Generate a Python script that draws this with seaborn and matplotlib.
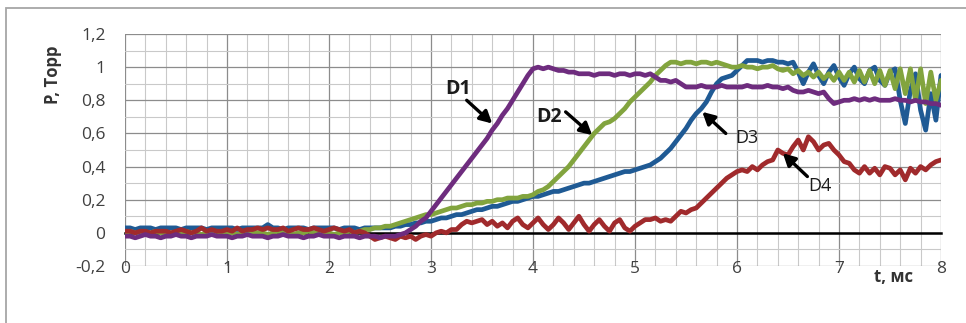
import numpy as np
import pandas as pd
import matplotlib
matplotlib.use("Agg")
import matplotlib.pyplot as plt
from matplotlib.patches import Rectangle
from matplotlib.ticker import MultipleLocator, FixedLocator
import seaborn as sns

# time grid, ms (sample step 0.05 ms)
t_ms = np.round(np.arange(161) * 0.05, 2)

# pressure traces of four gauges, Torr
d1 = [
    -0.02, -0.02, -0.03, -0.02, -0.01, -0.02, -0.02, -0.03, -0.02, -0.02, -0.01, -0.02, -0.02, -0.03, -0.02, -0.02, -0.02, -0.01, -0.02, -0.02,
    -0.02, -0.03, -0.02, -0.02, -0.01, -0.02, -0.02, -0.02, -0.03, -0.02, -0.02, -0.01, -0.02, -0.02, -0.02, -0.03, -0.02, -0.02, -0.01, -0.02,
    -0.02, -0.02, -0.03, -0.02, -0.02, -0.02, -0.03, -0.02, -0.02, -0.02, -0.03, -0.02, -0.02, -0.02, -0.01, 0.00, 0.02, 0.04, 0.07, 0.09,
    0.13, 0.17, 0.21, 0.25, 0.29, 0.33, 0.37, 0.41, 0.45, 0.49, 0.53, 0.57, 0.62, 0.66, 0.71, 0.75, 0.80, 0.85, 0.90, 0.95,
    0.99, 1.00, 0.99, 1.00, 0.99, 0.98, 0.98, 0.97, 0.97, 0.96, 0.96, 0.96, 0.95, 0.96, 0.96, 0.96, 0.95, 0.96, 0.96, 0.95,
    0.96, 0.96, 0.95, 0.96, 0.94, 0.92, 0.92, 0.91, 0.92, 0.90, 0.88, 0.88, 0.88, 0.89, 0.88, 0.88, 0.88, 0.89, 0.88, 0.88,
    0.88, 0.88, 0.89, 0.88, 0.88, 0.88, 0.89, 0.88, 0.88, 0.87, 0.88, 0.86, 0.85, 0.85, 0.86, 0.85, 0.84, 0.85, 0.81, 0.78,
    0.79, 0.80, 0.80, 0.81, 0.80, 0.81, 0.80, 0.81, 0.80, 0.80, 0.80, 0.81, 0.80, 0.80, 0.79, 0.80, 0.79, 0.79, 0.78, 0.78,
    0.77,
]
d2 = [
    0.00, 0.01, 0.00, 0.00, -0.01, 0.00, 0.01, 0.00, 0.00, 0.00, -0.01, 0.00, 0.01, 0.00, 0.00, -0.01, 0.00, 0.00, 0.01, 0.00,
    0.00, 0.00, -0.01, 0.00, 0.01, 0.00, 0.00, 0.00, -0.01, 0.00, 0.01, 0.00, 0.00, -0.01, 0.00, 0.00, 0.01, 0.00, 0.00, 0.00,
    0.00, -0.01, 0.00, 0.00, 0.01, 0.00, 0.01, 0.02, 0.02, 0.03, 0.03, 0.04, 0.04, 0.05, 0.06, 0.07, 0.08, 0.09, 0.10, 0.11,
    0.11, 0.12, 0.13, 0.14, 0.15, 0.15, 0.16, 0.17, 0.17, 0.18, 0.18, 0.19, 0.19, 0.20, 0.20, 0.21, 0.21, 0.21, 0.22, 0.22,
    0.23, 0.25, 0.26, 0.28, 0.31, 0.34, 0.37, 0.40, 0.44, 0.48, 0.52, 0.56, 0.60, 0.63, 0.66, 0.67, 0.69, 0.72, 0.75, 0.79,
    0.82, 0.85, 0.88, 0.91, 0.95, 0.98, 1.01, 1.03, 1.03, 1.02, 1.03, 1.03, 1.02, 1.03, 1.03, 1.02, 1.03, 1.02, 1.01, 1.00,
    1.00, 1.01, 1.00, 1.00, 0.99, 1.00, 1.00, 1.01, 0.99, 0.98, 0.99, 0.96, 0.98, 0.95, 0.97, 0.94, 0.97, 0.93, 0.96, 0.92,
    0.97, 0.92, 0.97, 0.91, 0.98, 0.91, 0.98, 0.90, 0.98, 0.89, 0.98, 0.87, 0.99, 0.84, 0.99, 0.80, 0.99, 0.78, 0.97, 0.80,
    0.92,
]
d3 = [
    0.03, 0.03, 0.02, 0.03, 0.03, 0.03, 0.02, 0.03, 0.03, 0.03, 0.03, 0.02, 0.03, 0.03, 0.03, 0.03, 0.02, 0.03, 0.03, 0.03,
    0.03, 0.03, 0.02, 0.03, 0.03, 0.03, 0.03, 0.03, 0.05, 0.03, 0.03, 0.02, 0.03, 0.03, 0.03, 0.03, 0.02, 0.03, 0.03, 0.03,
    0.03, 0.03, 0.02, 0.03, 0.03, 0.03, 0.02, 0.03, 0.03, 0.03, 0.03, 0.03, 0.03, 0.04, 0.04, 0.05, 0.05, 0.06, 0.06, 0.07,
    0.07, 0.08, 0.09, 0.09, 0.10, 0.11, 0.11, 0.12, 0.13, 0.14, 0.14, 0.15, 0.16, 0.16, 0.17, 0.18, 0.19, 0.19, 0.20, 0.21,
    0.22, 0.22, 0.23, 0.24, 0.25, 0.25, 0.26, 0.27, 0.28, 0.29, 0.30, 0.30, 0.31, 0.32, 0.33, 0.34, 0.35, 0.36, 0.37, 0.37,
    0.38, 0.39, 0.40, 0.41, 0.43, 0.45, 0.48, 0.51, 0.55, 0.59, 0.63, 0.68, 0.72, 0.75, 0.79, 0.85, 0.90, 0.93, 0.94, 0.95,
    0.98, 1.01, 1.04, 1.04, 1.04, 1.03, 1.04, 1.04, 1.03, 1.03, 1.02, 1.03, 0.97, 0.90, 0.97, 1.02, 0.95, 0.90, 0.97, 1.01,
    0.94, 0.89, 0.96, 1.00, 0.93, 0.90, 0.98, 1.00, 0.92, 0.89, 0.97, 0.99, 0.80, 0.66, 0.86, 0.96, 0.74, 0.62, 0.84, 0.68,
    0.95,
]
d4 = [
    0.01, 0.01, 0.00, 0.01, 0.01, 0.00, 0.01, 0.01, 0.01, 0.00, 0.01, 0.02, 0.01, 0.00, 0.01, 0.03, 0.01, 0.02, 0.01, 0.01,
    0.02, 0.01, 0.03, 0.01, 0.02, 0.02, 0.03, 0.02, 0.03, 0.02, 0.02, 0.03, 0.01, 0.02, 0.03, 0.02, 0.02, 0.03, 0.02, 0.01,
    0.02, 0.03, 0.02, 0.01, 0.02, 0.00, 0.01, 0.00, -0.02, -0.04, -0.03, -0.02, -0.03, -0.04, -0.02, -0.03, -0.02, -0.04, -0.02, -0.01,
    -0.02, 0.00, 0.01, 0.00, 0.02, 0.02, 0.05, 0.07, 0.06, 0.07, 0.08, 0.05, 0.07, 0.04, 0.06, 0.03, 0.07, 0.09, 0.05, 0.03,
    0.06, 0.09, 0.05, 0.02, 0.05, 0.09, 0.06, 0.02, 0.06, 0.10, 0.05, 0.01, 0.05, 0.08, 0.04, 0.01, 0.06, 0.08, 0.03, 0.01,
    0.04, 0.06, 0.08, 0.08, 0.09, 0.07, 0.08, 0.07, 0.10, 0.13, 0.12, 0.14, 0.15, 0.18, 0.21, 0.24, 0.27, 0.30, 0.33, 0.35,
    0.37, 0.38, 0.37, 0.40, 0.38, 0.41, 0.43, 0.44, 0.50, 0.48, 0.47, 0.52, 0.56, 0.50, 0.58, 0.55, 0.50, 0.53, 0.54, 0.50,
    0.47, 0.43, 0.42, 0.38, 0.36, 0.40, 0.36, 0.39, 0.35, 0.40, 0.39, 0.35, 0.38, 0.32, 0.39, 0.36, 0.40, 0.38, 0.41, 0.43,
    0.44,
]

series_names = ["D3", "D2", "D4", "D1"]
series_values = {"D1": d1, "D2": d2, "D3": d3, "D4": d4}
series_colors = {"D1": "#6E2C7E", "D2": "#82A43E", "D3": "#1F5A94", "D4": "#A02A2C"}

y_ticks = [-0.2, 0.0, 0.2, 0.4, 0.6, 0.8, 1.0, 1.2]
y_tick_labels = ["-0,2", "0", "0,2", "0,4", "0,6", "0,8", "1", "1,2"]
x_ticks = [0, 1, 2, 3, 4, 5, 6, 7, 8]
x_tick_labels = ["0", "1", "2", "3", "4", "5", "6", "7", "8"]

# label text, label anchor (t, P), arrow tail, arrow head, bold
callouts = [
    ("D1", (3.27, 0.87), (3.35, 0.80), (3.60, 0.66), "bold"),
    ("D2", (4.16, 0.70), (4.32, 0.73), (4.58, 0.59), "bold"),
    ("D3", (6.10, 0.57), (5.89, 0.60), (5.66, 0.73), "normal"),
    ("D4", (6.81, 0.28), (6.69, 0.34), (6.45, 0.48), "normal"),
]

frames = [pd.DataFrame({"t": t_ms, "P": series_values[n], "sensor": n}) for n in series_names]
df = pd.concat(frames, ignore_index=True)

sns.set_theme(style="white")
plt.rcParams["font.family"] = ["Open Sans", "DejaVu Sans"]

W, H = 966, 323
fig = plt.figure(figsize=(W / 100, H / 100), dpi=100)
ax = fig.add_axes([125 / W, 1 - 266 / H, (941 - 125) / W, (266 - 34) / H])

# grid
ax.set_xlim(0, 8)
ax.set_ylim(-0.2, 1.2)
ax.xaxis.set_minor_locator(MultipleLocator(0.2))
ax.yaxis.set_minor_locator(MultipleLocator(0.1))
ax.grid(which="major", color="#8C8C8C", linewidth=0.9, zorder=0)
ax.grid(which="minor", color="#C9C9C9", linewidth=0.8, zorder=0)
ax.set_axisbelow(True)

sns.lineplot(data=df, x="t", y="P", hue="sensor", hue_order=series_names,
             palette=series_colors, linewidth=3.4, legend=False, ax=ax,
             estimator=None, sort=False)

for side in ["top", "right", "left"]:
    ax.spines[side].set_visible(False)
ax.spines["bottom"].set_position(("data", 0))
ax.spines["bottom"].set_color("black")
ax.spines["bottom"].set_linewidth(1.8)
ax.spines["bottom"].set_zorder(1.5)

ax.xaxis.set_major_locator(FixedLocator(x_ticks))
ax.set_xticklabels(x_tick_labels)
ax.yaxis.set_major_locator(FixedLocator(y_ticks))
ax.set_yticklabels(y_tick_labels)
ax.tick_params(axis="x", which="major", direction="out", length=5, width=1.8,
               color="black", pad=15, labelsize=12.5, labelcolor="#404040")
ax.tick_params(axis="x", which="minor", length=0)
ax.tick_params(axis="y", which="both", length=0, pad=14, labelsize=12.5, labelcolor="#404040")
ax.set_xlabel("")
ax.set_ylabel("")

fig.text(53 / W, 1 - 75 / H, "P, Торр", rotation=90, ha="center", va="center",
         fontsize=12, fontweight="bold", color="#333333")
fig.text(893 / W, 1 - 277 / H, "t, мс", ha="center", va="center",
         fontsize=12, fontweight="bold", color="#333333")

for name, (tx, ty), tail, head, weight in callouts:
    ax.text(tx, ty, name, ha="center", va="center", fontsize=14 if weight == "bold" else 13,
            fontweight=weight, color="#1A1A1A", zorder=5)
    ax.annotate("", xy=head, xytext=tail,
                arrowprops=dict(arrowstyle="-|>,head_length=0.6,head_width=0.32",
                                color="black", lw=2.4, shrinkA=0, shrinkB=0), zorder=5)

# outer chart frame
fig.add_artist(Rectangle((6 / W, -0.5), 2.0, 0.5 + 1 - 8 / H, transform=fig.transFigure,
                         fill=False, edgecolor="#A6A6A6", linewidth=1.3))

fig.savefig("out.png", dpi=100)
